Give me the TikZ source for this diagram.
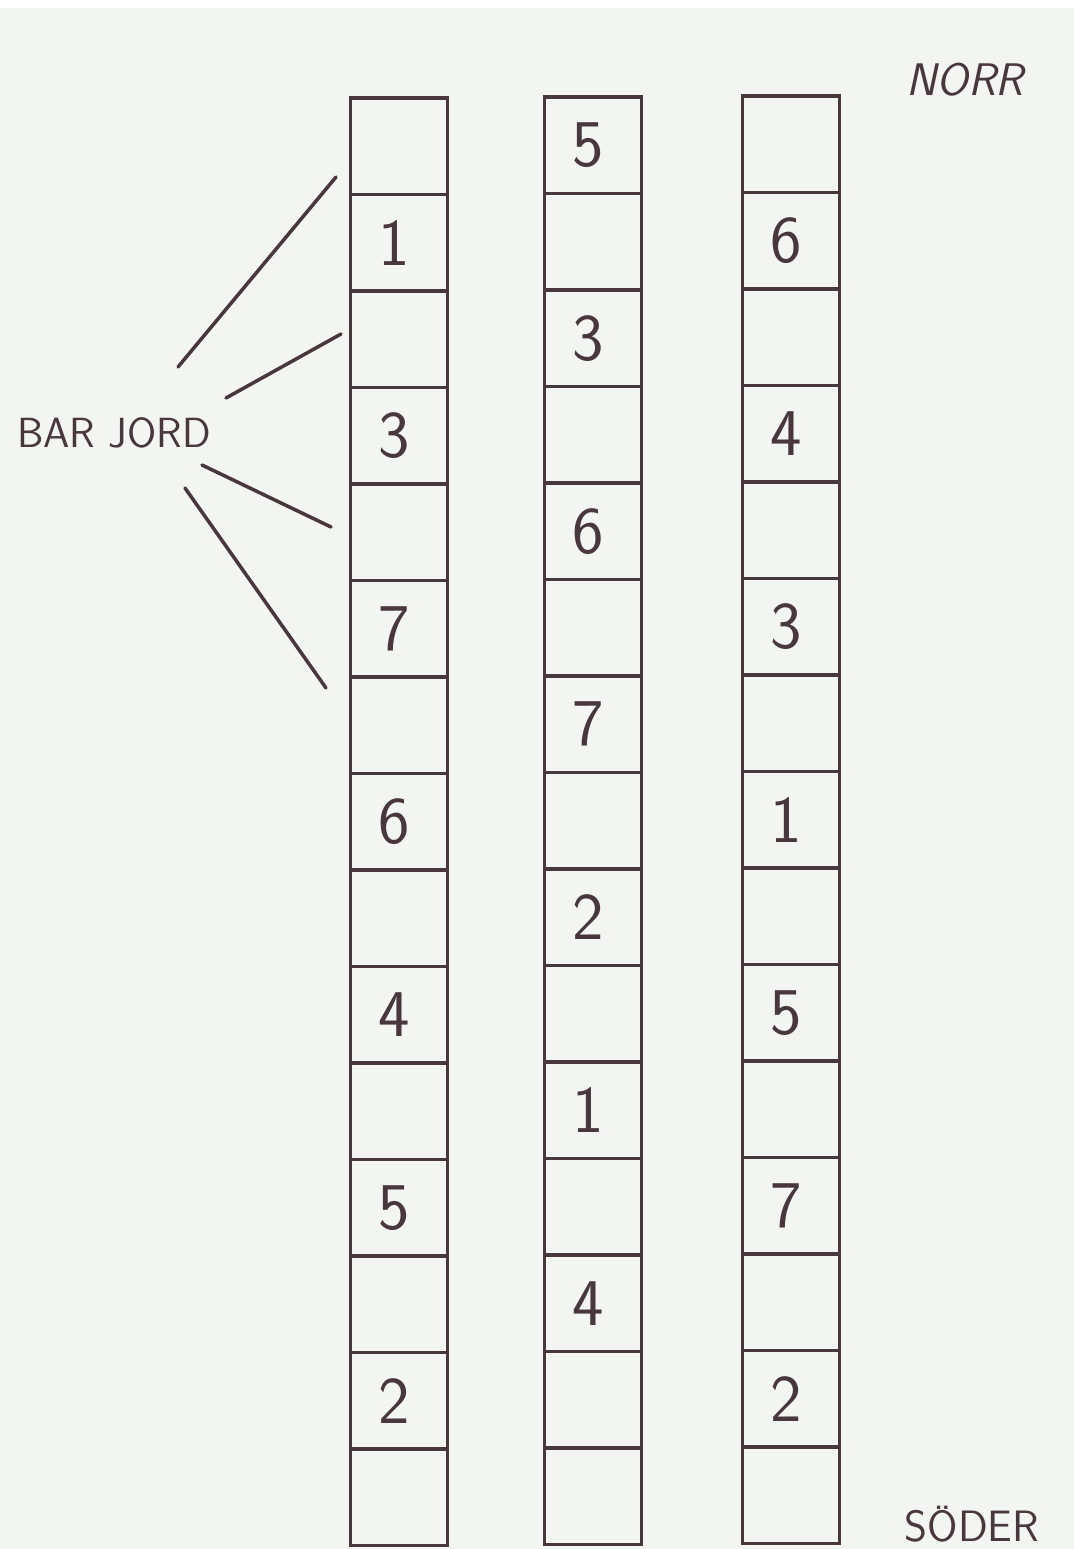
\documentclass[tikz,border=0pt]{standalone}
\usepackage{xcolor}
\definecolor{penink}{RGB}{72,56,62}
\definecolor{paper}{RGB}{243,245,242}
\tikzset{
  cell/.style={draw=penink, line width=2pt, minimum width=1.94cm, minimum height=1.93cm, inner sep=0pt},
  digit/.style={text=penink, font=\sffamily\fontsize{38}{42}\selectfont, xshift=-3pt},
  lbl/.style={text=penink, font=\sffamily\fontsize{24}{28}\selectfont},
  pen/.style={draw=penink, line width=2pt, line cap=round}
}
\begin{document}
\begin{tikzpicture}[x=0.02cm, y=-0.02cm]
	\useasboundingbox (0,0) rectangle (1074,1549);
	\fill[paper] (0,0) rectangle (1074,1549);
	\fill[white] (0,0) rectangle (1074,8);
	
	% three rows of beds, 15 cells each
	\foreach \c/\xc/\yt in {a/399/98, b/593/97, c/791/96}
		\foreach \i in {0,...,14}
			\node[cell] (\c\i) at (\xc,{\yt+96.5*\i+48.25}) {};
	
	% plant numbers
	\foreach \c/\i/\n in {a/1/1, a/3/3, a/5/7, a/7/6, a/9/4, a/11/5, a/13/2,
		b/0/5, b/2/3, b/4/6, b/6/7, b/8/2, b/10/1, b/12/4,
		c/1/6, c/3/4, c/5/3, c/7/1, c/9/5, c/11/7, c/13/2}
		\node[digit] at (\c\i) {\n};
	
	\node[lbl] (bar) at (114,433) {BAR JORD};
	\node[lbl, font=\sffamily\slshape\fontsize{26}{30}\selectfont] (norr) at (965,80) {NORR};
	\node[lbl, inner sep=1pt, font=\sffamily\fontsize{25}{28}\selectfont] (soder) at (972,1524) {SÖDER};
	
	% pointers to the empty cells
	\coordinate (s1) at (178,367);
	\coordinate (e1) at (336,177);
	\coordinate (s2) at (226,398);
	\coordinate (e2) at (341,334);
	\coordinate (s3) at (202,465);
	\coordinate (e3) at (331,527);
	\coordinate (s4) at (185,488);
	\coordinate (e4) at (326,688);
	\draw[pen] (s1) -- (e1);
	\draw[pen] (s2) -- (e2);
	\draw[pen] (s3) -- (e3);
	\draw[pen] (s4) -- (e4);
\end{tikzpicture}
\end{document}
